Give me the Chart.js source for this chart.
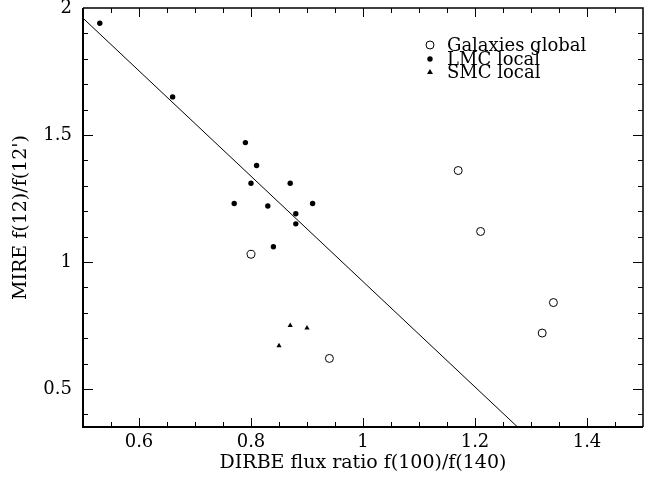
<!DOCTYPE html>
<html>
<head>
<meta charset="utf-8">
<script src="https://cdn.jsdelivr.net/npm/chart.js"></script>
<style>
    html, body { margin: 0; padding: 0; background: #fff; }
    #wrap { width: 666px; height: 479px; }
</style>
</head>
<body>
<div id="wrap"><canvas id="mire_plot_canvas" width="666" height="479"></canvas></div>
<script>
// values
const galaxiesX = [0.80, 0.94, 1.17, 1.21, 1.32, 1.34];
const galaxiesY = [1.03, 0.62, 1.36, 1.12, 0.72, 0.84];
const lmcX = [0.53, 0.66, 0.79, 0.81, 0.80, 0.87, 0.77, 0.83, 0.91, 0.88, 0.88, 0.84];
const lmcY = [1.94, 1.65, 1.47, 1.38, 1.31, 1.31, 1.23, 1.22, 1.23, 1.19, 1.15, 1.06];
const smcX = [0.87, 0.90, 0.85];
const smcY = [0.75, 0.74, 0.67];
const fitX = [0.50, 1.276];
const fitY = [1.96, 0.35];

const xTicks = [0.6, 0.8, 1.0, 1.2, 1.4];
const xTickLabels = ['0.6', '0.8', '1', '1.2', '1.4'];
const yTicks = [0.5, 1.0, 1.5, 2.0];
const yTickLabels = ['0.5', '1', '1.5', '2'];
const seriesNames = ['Galaxies global', 'LMC local', 'SMC local'];

const FONT = 'DejaVu Serif';

function toPoints(xs, ys) {
    return xs.map(function(x, i) { return {x: x, y: ys[i]}; });
}

function drawMarker(ctx, kind, x, y) {
    ctx.beginPath();
    if (kind === 'open') {
        ctx.arc(x, y, 4, 0, Math.PI * 2);
        ctx.fillStyle = '#fff';
        ctx.fill();
        ctx.lineWidth = 1;
        ctx.stroke();
    } else if (kind === 'dot') {
        ctx.arc(x, y, 2.7, 0, Math.PI * 2);
        ctx.fillStyle = '#000';
        ctx.fill();
    } else {
        ctx.moveTo(x, y - 3);
        ctx.lineTo(x + 3, y + 2);
        ctx.lineTo(x - 3, y + 2);
        ctx.closePath();
        ctx.fillStyle = '#000';
        ctx.fill();
    }
}

// box round the plot with inward tick marks
const frameTicks = {
    id: 'frameTicks',
    afterDatasetsDraw(chart) {
        const ctx = chart.ctx;
        const a = chart.chartArea;
        const xs = chart.scales.x;
        const ys = chart.scales.y;
        ctx.save();
        ctx.strokeStyle = '#000';
        ctx.lineWidth = 1;
        ctx.beginPath();
        for (let i = 1; i < 20; i++) {
            const v = 0.5 + i * 0.05;
            const px = Math.round(xs.getPixelForValue(v)) + 0.5;
            const len = (i % 4 === 2) ? 9 : 5;
            ctx.moveTo(px, a.bottom);
            ctx.lineTo(px, a.bottom - len);
            ctx.moveTo(px, a.top);
            ctx.lineTo(px, a.top + len);
        }
        for (let i = 0; i < 16; i++) {
            const v = 0.4 + i * 0.1;
            const py = Math.round(ys.getPixelForValue(v)) + 0.5;
            const major = Math.abs(v * 2 - Math.round(v * 2)) < 1e-6;
            const len = major ? 10 : 5;
            ctx.moveTo(a.left, py);
            ctx.lineTo(a.left + len, py);
            ctx.moveTo(a.right, py);
            ctx.lineTo(a.right - len, py);
        }
        ctx.stroke();

        ctx.lineWidth = 1.5;
        ctx.beginPath();
        ctx.moveTo(a.left, a.top);
        ctx.lineTo(a.right, a.top);
        ctx.lineTo(a.right, a.bottom);
        ctx.stroke();
        ctx.lineWidth = 2;
        ctx.beginPath();
        ctx.moveTo(a.right, a.bottom);
        ctx.lineTo(a.left, a.bottom);
        ctx.lineTo(a.left, a.top);
        ctx.stroke();
        ctx.restore();
    }
};

// legend drawn inside the plot, top right
const innerLegend = {
    id: 'innerLegend',
    afterDraw(chart) {
        const ctx = chart.ctx;
        const kinds = ['open', 'dot', 'tri'];
        const rowY = [45, 59, 72];
        ctx.save();
        ctx.strokeStyle = '#000';
        ctx.font = '18px "' + FONT + '"';
        ctx.textBaseline = 'middle';
        ctx.textAlign = 'left';
        for (let i = 0; i < seriesNames.length; i++) {
            drawMarker(ctx, kinds[i], 430, rowY[i]);
            ctx.fillStyle = '#000';
            ctx.fillText(seriesNames[i], 447, rowY[i] + 1);
        }
        ctx.restore();
    }
};

const mirePlot = document.getElementById('mire_plot_canvas');
const mireChart = new Chart(mirePlot, {
    type: 'scatter',
    data: {
        datasets: [{
            label: seriesNames[0],
            data: toPoints(galaxiesX, galaxiesY),
            pointStyle: 'circle',
            pointRadius: 4,
            backgroundColor: '#fff',
            borderColor: '#000',
            borderWidth: 1
        }, {
            label: seriesNames[1],
            data: toPoints(lmcX, lmcY),
            pointStyle: 'circle',
            pointRadius: 2.7,
            backgroundColor: '#000',
            borderColor: '#000',
            borderWidth: 0
        }, {
            label: seriesNames[2],
            data: toPoints(smcX, smcY),
            pointStyle: 'triangle',
            pointRadius: 3,
            backgroundColor: '#000',
            borderColor: '#000',
            borderWidth: 0
        }, {
            type: 'line',
            label: 'fit',
            data: toPoints(fitX, fitY),
            borderColor: '#000',
            borderWidth: 1,
            pointRadius: 0,
            fill: false
        }]
    },
    options: {
        responsive: false,
        animation: false,
        layout: {
            padding: { top: 8, right: 23, left: 0, bottom: 0 }
        },
        scales: {
            x: {
                type: 'linear',
                min: 0.5,
                max: 1.5,
                afterBuildTicks: function(s) {
                    s.ticks = xTicks.map(function(v) { return {value: v}; });
                },
                afterFit: function(s) {
                    s.height = 52;
                    s.paddingLeft = 0;
                    s.paddingRight = 0;
                },
                grid: { display: false, drawTicks: false },
                border: { display: false },
                ticks: {
                    color: '#000',
                    font: { family: FONT, size: 18 },
                    padding: 5,
                    maxRotation: 0,
                    autoSkip: false,
                    callback: function(value, index) {
                        return xTickLabels[index];
                    }
                },
                title: {
                    display: true,
                    text: 'DIRBE flux ratio f(100)/f(140)',
                    color: '#000',
                    font: { family: FONT, size: 19 },
                    padding: { top: 0, bottom: 5 }
                }
            },
            y: {
                type: 'linear',
                min: 0.35,
                max: 2.0,
                afterBuildTicks: function(s) {
                    s.ticks = yTicks.map(function(v) { return {value: v}; });
                },
                afterFit: function(s) {
                    s.width = 83;
                    s.paddingTop = 0;
                    s.paddingBottom = 0;
                },
                grid: { display: false, drawTicks: false },
                border: { display: false },
                ticks: {
                    color: '#000',
                    font: { family: FONT, size: 18 },
                    padding: 11,
                    callback: function(value, index) {
                        return yTickLabels[index];
                    }
                },
                title: {
                    display: true,
                    text: "MIRE f(12)/f(12')",
                    color: '#000',
                    font: { family: FONT, size: 19 },
                    padding: { top: 10, bottom: 0 }
                }
            }
        },
        plugins: {
            legend: { display: false },
            tooltip: { enabled: false }
        }
    },
    plugins: [frameTicks, innerLegend]
});
</script>
</body>
</html>
